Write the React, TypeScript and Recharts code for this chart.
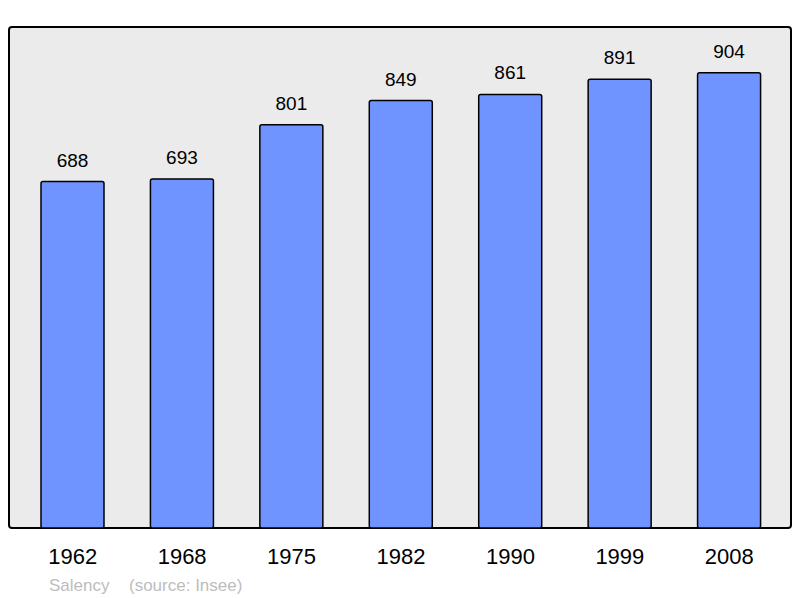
import React from "react";
import { BarChart, Bar, XAxis, YAxis, LabelList } from "recharts";

const years = ["1962", "1968", "1975", "1982", "1990", "1999", "2008"];
const population = [688, 693, 801, 849, 861, 891, 904];
const commune = "Salency";
const source = "(source: Insee)";

const data = years.map((y, i) => ({ year: y, pop: population[i] }));

const FONT = "'Liberation Sans', Arial, sans-serif";

export default function App() {
  return (
    <div style={{ position: "absolute", left: 0, top: 0, width: 800, height: 598, fontFamily: FONT }}>
      <div
        style={{
          position: "absolute",
          left: 8,
          top: 26,
          width: 784,
          height: 503,
          boxSizing: "border-box",
          border: "2px solid #000",
          borderRadius: 4,
          background: "#ebebeb",
        }}
      />
      <div style={{ position: "absolute", left: 0, top: 0 }}>
        <BarChart
          width={800}
          height={598}
          data={data}
          margin={{ top: 27, right: 16, bottom: 0, left: 18 }}
        >
          <YAxis hide domain={[0, 995]} />
          <XAxis
            dataKey="year"
            height={70}
            axisLine={false}
            tickLine={false}
            tickSize={6}
            tickMargin={14}
            tick={{ fontSize: 22, fill: "#000", fontFamily: FONT }}
          />
          <Bar dataKey="pop" fill="#7094ff" stroke="#000" strokeWidth={1.5} barSize={63} radius={2} isAnimationActive={false}>
            <LabelList dataKey="pop" position="top" offset={15} style={{ fontSize: 19, fill: "#000", fontFamily: FONT }} />
          </Bar>
        </BarChart>
      </div>
      <div
        style={{
          position: "absolute",
          left: 49,
          top: 576,
          fontSize: 17,
          lineHeight: "20px",
          color: "#bdbdbd",
          whiteSpace: "pre",
        }}
      >
        {commune}
      </div>
      <div
        style={{
          position: "absolute",
          left: 129,
          top: 576,
          fontSize: 17,
          lineHeight: "20px",
          color: "#bdbdbd",
          whiteSpace: "pre",
        }}
      >
        {source}
      </div>
    </div>
  );
}
